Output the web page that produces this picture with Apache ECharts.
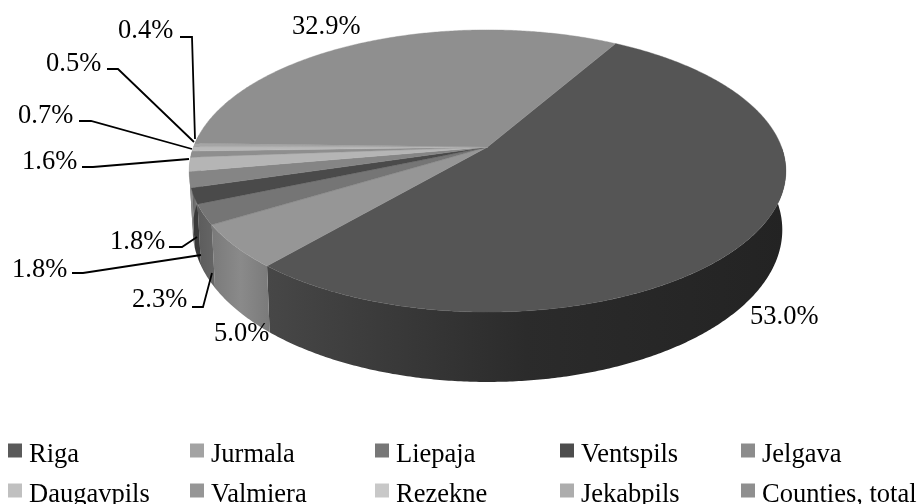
<!DOCTYPE html>
<html>
<head>
<meta charset="utf-8">
<style>html,body{margin:0;padding:0;background:#fff}#chart{width:918px;height:504px}</style>
<script src="https://cdn.jsdelivr.net/npm/echarts@6/dist/echarts.min.js"></script>
</head>
<body>
<div id="chart"></div>
<script>
// Share of each city and of the counties, percent
const categories = ['Riga','Jurmala','Liepaja','Ventspils','Jelgava','Daugavpils','Valmiera','Rezekne','Jekabpils','Counties, total'];
const shares = [53.0, 5.0, 2.3, 1.8, 1.8, 1.6, 0.7, 0.5, 0.4, 32.9];

// Fill colours: top face, legend swatch, side wall stops (left to right)
const topColors = ['#555555','#969696','#757575','#4a4a4a','#858585','#b5b5b5','#8e8e8e','#b8b8b8','#a5a5a5','#8f8f8f'];
const swatchColors = ['#5a5a5a','#a3a3a3','#777777','#4d4d4d','#8c8c8c','#c0c0c0','#969696','#c8c8c8','#adadad','#8f8f8f'];
const wallColors = [
  ['#474747','#2b2b2b','#232323'],['#7a7a7a','#8a8a8a','#7a7a7a'],['#5c5c5c','#666666'],['#383838','#3c3c3c'],
  ['#666666','#666666'],['#8c8c8c','#8c8c8c'],['#6e6e6e','#6e6e6e'],['#8c8c8c','#8c8c8c'],
  ['#808080','#808080'],['#707070','#707070']
];

// Label placement: left edge and vertical middle of each percentage
const labelSpots = [[750,317],[214,334],[132,300],[12,270],[110,242],[22,162],[18,116],[46,64],[118,31],[292,27]];
// Leader lines running from label to slice, empty where the label sits beside its slice
const leaders = [
  [],[],
  [[192,307],[203,307],[212,273]],
  [[72,273],[83,273],[201,255]],
  [[169,247],[182,247],[197,237]],
  [[82,167],[93,167],[189,159]],
  [[79,121],[91,121],[192,149]],
  [[107,69],[118,69],[194,142]],
  [[180,37],[192,37],[195,139]],
  []
];

// Perspective view of the disc: face seen from above, base offset below it
const firstAngle = 30;
const tilt = 0.17;
const topFace = { cx: 487.5, cy: 147, a: 294, b: 137 };
const baseFace = { cx: 487.5, cy: 204, a: 290.5, b: 147.7 };

function project(face, deg) {
  const t = deg * Math.PI / 180;
  const u = Math.sin(t), v = -Math.cos(t);
  const w = 1 - tilt * v;
  return [face.cx + face.a * u / w, face.cy + face.b * v / w];
}

function arc(face, from, to) {
  const pts = [];
  const n = Math.max(2, Math.ceil(Math.abs(to - from) / 0.5));
  for (let i = 0; i <= n; i++) pts.push(project(face, from + (to - from) * i / n));
  return pts;
}

const total = shares.reduce((s, v) => s + v, 0);
const startAngles = [];
shares.reduce((acc, v, i) => { startAngles[i] = acc; return acc + v / total * 360; }, firstAngle);

function renderSlice(index, api) {
  const value = api.value(0);
  const from = startAngles[index];
  const to = from + value / total * 360;
  const children = [];

  // Side wall, only where the rim faces the viewer; painted beneath every top face
  const wallFrom = Math.max(from, 90), wallTo = Math.min(to, 275);
  if (wallTo > wallFrom) {
    const pts = arc(topFace, wallFrom, wallTo).concat(arc(baseFace, wallFrom, wallTo).reverse());
    const xs = pts.map(p => p[0]);
    const x0 = Math.min.apply(null, xs), x1 = Math.max.apply(null, xs);
    const ramp = wallColors[index];
    const stops = ramp.map((color, k) => ({ offset: k / (ramp.length - 1), color }));
    children.push({
      type: 'polygon',
      z2: 1,
      shape: { points: pts },
      style: { fill: new echarts.graphic.LinearGradient(x0, 0, x1, 0, stops, true) }
    });
  }

  // Top face
  children.push({
    type: 'polygon',
    z2: 2,
    shape: { points: [[topFace.cx, topFace.cy]].concat(arc(topFace, from, to)) },
    style: { fill: topColors[index], stroke: topColors[index], lineWidth: 0.4 }
  });

  // Leader line and percentage
  if (leaders[index].length) {
    children.push({
      type: 'polyline',
      z2: 3,
      shape: { points: leaders[index] },
      style: { fill: null, stroke: '#000', lineWidth: 1.8 }
    });
  }
  children.push({
    type: 'text',
    x: labelSpots[index][0],
    y: labelSpots[index][1],
    z2: 4,
    style: {
      text: value.toFixed(1) + '%',
      fill: '#000',
      font: '26.5px "Liberation Serif", "Times New Roman", serif',
      textAlign: 'left',
      textVerticalAlign: 'middle'
    }
  });
  return { type: 'group', children };
}

// Legend laid out as a five-by-two table, one component per entry
const legendColumns = [8, 190, 375, 560, 741];
const legendRows = [432.5, 472.5];
const legends = categories.map((name, i) => ({
  left: legendColumns[i % 5],
  top: legendRows[Math.floor(i / 5)],
  padding: 0,
  itemWidth: 14,
  itemHeight: 14,
  icon: 'rect',
  selectedMode: false,
  formatter: '{t|{name}}',
  textStyle: {
    rich: {
      t: {
        fontFamily: '"Liberation Serif", "Times New Roman", serif',
        fontSize: 26.5,
        color: '#000',
        lineHeight: 30,
        padding: [9, 0, 0, 2]
      }
    }
  },
  data: [{ name, itemStyle: { color: swatchColors[i] } }]
}));

const chart = echarts.init(document.getElementById('chart'), null, { renderer: 'canvas' });
chart.setOption({
  animation: false,
  backgroundColor: '#fff',
  legend: legends,
  series: categories.map((name, i) => ({
    type: 'custom',
    name,
    coordinateSystem: 'none',
    silent: true,
    z: 2,
    itemStyle: { color: swatchColors[i] },
    data: [[shares[i]]],
    renderItem: (params, api) => renderSlice(i, api)
  }))
});
</script>
</body>
</html>
